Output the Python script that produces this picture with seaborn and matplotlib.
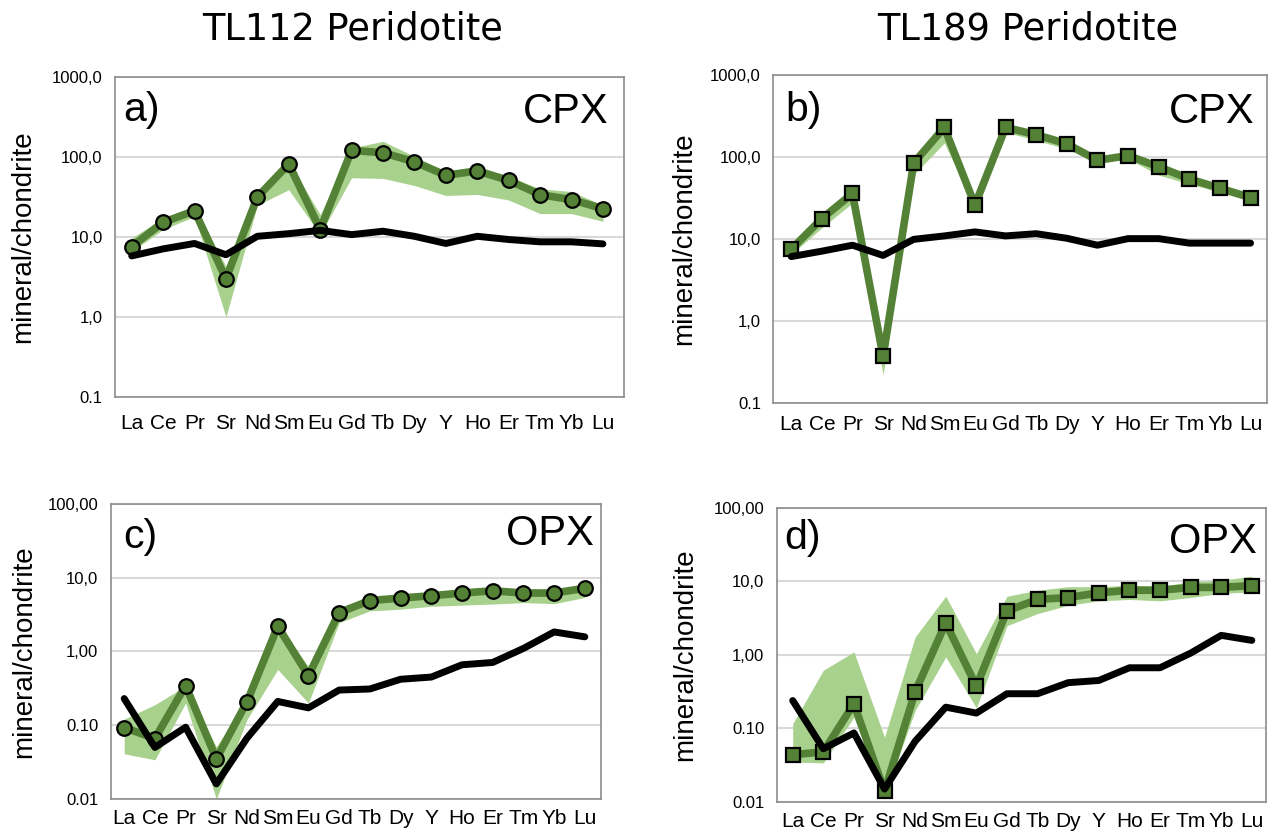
import numpy as np
import pandas as pd
import matplotlib
matplotlib.use("Agg")
import matplotlib.pyplot as plt
import matplotlib.transforms as mtransforms
import seaborn as sns

elements = ["La", "Ce", "Pr", "Sr", "Nd", "Sm", "Eu", "Gd", "Tb", "Dy",
            "Y", "Ho", "Er", "Tm", "Yb", "Lu"]

# a) TL112 CPX
a_mean = [7.6, 15.2, 21.3, 3.0, 31.6, 81.7, 12.4, 121, 113, 87, 59, 67, 51, 33.8, 29.3, 22.6]
a_high = [9.7, 17.3, 24, 4.3, 35, 88, 19, 130, 157, 102, 66, 76, 57, 40, 37, 25]
a_low = [6.6, 12.4, 18, 1.0, 25, 39, 10.7, 55, 54, 44, 33, 34, 29, 19.6, 19.6, 15.7]
a_ref = [5.8, 7.1, 8.3, 6.0, 10.2, 11, 12.1, 10.7, 11.8, 10.2, 8.3, 10.2, 9.3, 8.7, 8.7, 8.2]

# b) TL189 CPX
b_mean = [7.5, 17.7, 35.9, 0.37, 84.5, 229, 25.9, 229, 187, 145, 91, 104, 76, 54, 41.6, 32]
b_high = [8.5, 19, 38, 0.4, 90, 240, 28, 240, 200, 155, 95, 110, 80, 57, 44, 34]
b_low = [6.5, 13.7, 27.5, 0.22, 61, 148, 24, 200, 160, 125, 85, 95, 60, 47, 37, 29]
b_ref = [6.1, 7.1, 8.4, 6.3, 9.9, 10.9, 12.2, 10.9, 11.6, 10.2, 8.4, 10.1, 10.1, 8.9, 8.9, 8.9]

# c) TL112 OPX
c_mean = [0.093, 0.066, 0.344, 0.035, 0.208, 2.19, 0.471, 3.37, 4.9, 5.3, 5.7, 6.2, 6.65, 6.2, 6.2, 7.2]
c_high = [0.121, 0.19, 0.34, 0.051, 0.22, 2.3, 0.63, 3.5, 5.1, 5.7, 6.2, 6.6, 7.0, 7.0, 7.0, 7.4]
c_low = [0.041, 0.034, 0.2, 0.010, 0.12, 0.57, 0.2, 2.46, 3.55, 3.75, 4.1, 4.25, 4.4, 4.6, 4.45, 5.4]
c_ref = [0.23, 0.05, 0.094, 0.016, 0.067, 0.21, 0.172, 0.30, 0.31, 0.42, 0.45, 0.66, 0.71, 1.1, 1.84, 1.58]

# d) TL189 OPX
d_mean = [0.044, 0.048, 0.217, 0.014, 0.316, 2.73, 0.374, 3.98, 5.7, 6.05, 7.0, 7.6, 7.6, 8.3, 8.3, 8.8]
d_high = [0.116, 0.62, 1.1, 0.076, 1.76, 6.3, 1.04, 6.3, 7.6, 8.5, 8.5, 8.9, 8.6, 9.9, 10.4, 11.8]
d_low = [0.035, 0.034, 0.143, 0.012, 0.176, 0.94, 0.19, 2.5, 3.66, 4.75, 5.45, 5.7, 5.45, 6.05, 6.9, 7.2]
d_ref = [0.24, 0.053, 0.087, 0.015, 0.067, 0.195, 0.162, 0.297, 0.297, 0.42, 0.45, 0.67, 0.67, 1.06, 1.85, 1.58]

cpx_ticks = [0.1, 1, 10, 100, 1000]
cpx_labels = ["0.1", "1,0", "10,0", "100,0", "1000,0"]
opx_ticks = [0.01, 0.1, 1, 10, 100]
opx_labels = ["0.01", "0.10", "1,00", "10,0", "100,00"]

sns.set_theme(style="white", rc={"text.color": "black", "axes.labelcolor": "black",
                                 "xtick.color": "black", "ytick.color": "black"})
plt.rcParams["font.family"] = ["Liberation Sans", "DejaVu Sans"]

dark_green = "#538135"
light_green = "#a9d18e"

fig = plt.figure(figsize=(12.81, 8.34), dpi=100)

# rect, xlim, x tick pad, ylabel x (fig px), letter pos, mineral pos
panels = [
    ([0.0898, 0.524, 0.3973, 0.3837], (-0.53, 15.67), 12, 36, (0.016, 0.862), (0.969, 0.855),
     a_mean, a_high, a_low, a_ref, "o", "a)", "CPX", cpx_ticks, cpx_labels),
    ([0.6038, 0.5168, 0.3851, 0.3933], (-0.58, 15.53), 9, 697, (0.024, 0.861), (0.975, 0.855),
     b_mean, b_high, b_low, b_ref, "s", "b)", "CPX", cpx_ticks, cpx_labels),
    ([0.0864, 0.042, 0.3831, 0.3537], (-0.44, 15.54), 7.5, 37, (0.025, 0.850), (0.985, 0.861),
     c_mean, c_high, c_low, c_ref, "o", "c)", "OPX", opx_ticks, opx_labels),
    ([0.6064, 0.0384, 0.3816, 0.3525], (-0.52, 15.45), 7, 698, (0.016, 0.860), (0.982, 0.848),
     d_mean, d_high, d_low, d_ref, "s", "d)", "OPX", opx_ticks, opx_labels),
]

x = np.arange(len(elements))

for (rect, xlim, xpad, ylab_x, lpos, mpos, mean, high, low, ref, mk,
     letter, mineral, ticks, labels) in panels:
    ax = fig.add_axes(rect)
    df = pd.DataFrame({"pos": x, "mean": mean, "high": high, "low": low, "ref": ref})

    ax.fill_between(df["pos"], df["low"], df["high"], color=light_green, lw=0, zorder=1)
    sns.lineplot(data=df, x="pos", y="mean", ax=ax, color=dark_green, lw=5.5,
                 marker=mk, markersize=10.5, markerfacecolor=dark_green,
                 markeredgecolor="black", markeredgewidth=1.6, sort=False, zorder=2)
    sns.lineplot(data=df, x="pos", y="ref", ax=ax, color="black", lw=5,
                 sort=False, zorder=3)

    ax.set_yscale("log")
    ax.set_ylim(ticks[0], ticks[-1])
    ax.set_yticks(ticks)
    ax.set_yticklabels(labels)
    ax.minorticks_off()
    ax.set_xlim(*xlim)
    ax.set_xticks(x)
    ax.set_xticklabels(elements)

    ax.grid(axis="y", color="#d9d9d9", lw=1.5)
    ax.set_axisbelow(True)
    for s in ax.spines.values():
        s.set_color("#8c8c8c")
        s.set_linewidth(1.2)
    ax.tick_params(axis="x", direction="in", length=6, width=1, color="#6e6e6e",
                   labelsize=15, pad=xpad)
    ax.tick_params(axis="y", length=0, labelsize=12, pad=9)

    ax.set_xlabel("")
    ax.set_ylabel("mineral/chondrite", fontsize=20)
    trans = mtransforms.blended_transform_factory(fig.transFigure, ax.transAxes)
    ax.yaxis.set_label_coords(ylab_x / 1281, 0.5, transform=trans)

    ax.text(lpos[0], lpos[1], letter, transform=ax.transAxes, fontsize=29.5,
            va="baseline", ha="left")
    ax.text(mpos[0], mpos[1], mineral, transform=ax.transAxes, fontsize=30,
            va="baseline", ha="right")

fig.text(0.2756, 0.9526, "TL112 Peridotite", fontsize=26.5, ha="center",
         va="baseline", family="DejaVu Sans")
fig.text(0.8025, 0.9526, "TL189 Peridotite", fontsize=26.5, ha="center",
         va="baseline", family="DejaVu Sans")

fig.savefig("out.png", dpi=100)
